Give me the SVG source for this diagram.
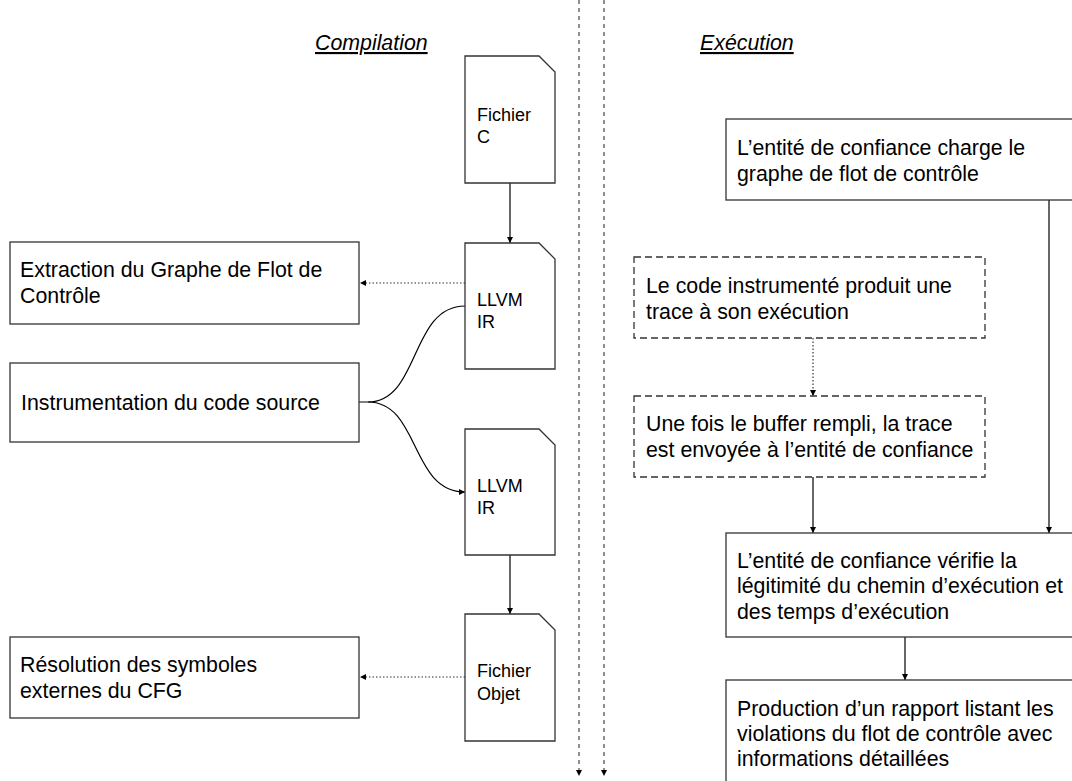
<svg xmlns="http://www.w3.org/2000/svg" width="1072" height="781" viewBox="0 0 1072 781">
<style>
text{font-family:"Liberation Sans",Arial,sans-serif;fill:#000}
.t{font-size:21.33px}
.d{font-size:18px}
.h{font-size:21.33px;font-style:italic;text-decoration:underline}
.box{fill:#fff;stroke:#333;stroke-width:1.3}
.dbox{fill:#fff;stroke:#333;stroke-width:1.3;stroke-dasharray:7 4}
.ln{fill:none;stroke:#000;stroke-width:1.2}
.dot{fill:none;stroke:#333;stroke-width:1.2;stroke-dasharray:1.5 2}
.sep{fill:none;stroke:#555;stroke-width:1.3;stroke-dasharray:4 4}
</style>
<defs>
<marker id="ah" viewBox="0 0 10 10" refX="10" refY="5" markerWidth="6" markerHeight="6" markerUnits="userSpaceOnUse" orient="auto">
<path d="M0,0 L10,5 L0,10 z" fill="#000"/>
</marker>
</defs>
<g id="headers">
<text class="h" x="315" y="50">Compilation</text>
<text class="h" x="700" y="50">Exécution</text>
</g>
<g id="connectors">
<line class="sep" x1="579" y1="0" x2="579" y2="776" marker-end="url(#ah)"/>
<line class="sep" x1="604" y1="0" x2="604" y2="776" marker-end="url(#ah)"/>
<line class="ln" x1="510" y1="183" x2="510" y2="243" marker-end="url(#ah)"/>
<line class="dot" x1="465" y1="283" x2="360" y2="283" marker-end="url(#ah)"/>
<path class="ln" d="M359,402 L368,402 C420,402 410,306 465,306"/>
<path class="ln" d="M368,402 C420,402 410,492 465,492" marker-end="url(#ah)"/>
<line class="ln" x1="510" y1="555" x2="510" y2="614" marker-end="url(#ah)"/>
<line class="dot" x1="465" y1="677" x2="360" y2="677" marker-end="url(#ah)"/>
<line class="dot" x1="813" y1="338" x2="813" y2="396" marker-end="url(#ah)"/>
<line class="ln" x1="813" y1="477" x2="813" y2="533" marker-end="url(#ah)"/>
<line class="ln" x1="1049" y1="200" x2="1049" y2="533" marker-end="url(#ah)"/>
<line class="ln" x1="905" y1="637" x2="905" y2="680" marker-end="url(#ah)"/>
</g>
<g id="fichier-c">
<path class="box" d="M465,56 L539,56 L555,72 L555,183 L465,183 z"/>
<text class="d" x="477" y="121">Fichier</text>
<text class="d" x="477" y="143">C</text>
</g>
<g id="llvm-ir-1">
<path class="box" d="M465,243 L539,243 L555,259 L555,369 L465,369 z"/>
<text class="d" x="477" y="306">LLVM</text>
<text class="d" x="477" y="328">IR</text>
</g>
<g id="llvm-ir-2">
<path class="box" d="M465,429 L539,429 L555,445 L555,555 L465,555 z"/>
<text class="d" x="477" y="492">LLVM</text>
<text class="d" x="477" y="514">IR</text>
</g>
<g id="fichier-objet">
<path class="box" d="M465,614 L539,614 L555,630 L555,741 L465,741 z"/>
<text class="d" x="477" y="677">Fichier</text>
<text class="d" x="477" y="700">Objet</text>
</g>
<g id="extraction">
<rect class="box" x="10" y="242" width="349" height="82"/>
<text class="t" x="20" y="277">Extraction du Graphe de Flot de</text>
<text class="t" x="20" y="303">Contrôle</text>
</g>
<g id="instrumentation">
<rect class="box" x="10" y="363" width="349" height="79"/>
<text class="t" x="21" y="410">Instrumentation du code source</text>
</g>
<g id="resolution">
<rect class="box" x="10" y="637" width="349" height="81"/>
<text class="t" x="20" y="672">Résolution des symboles</text>
<text class="t" x="20" y="698">externes du CFG</text>
</g>
<g id="charge">
<rect class="box" x="726" y="119" width="360" height="81"/>
<text class="t" x="737" y="155">L’entité de confiance charge le</text>
<text class="t" x="737" y="181">graphe de flot de contrôle</text>
</g>
<g id="trace">
<rect class="dbox" x="634" y="257" width="351" height="81"/>
<text class="t" x="646" y="293">Le code instrumenté produit une</text>
<text class="t" x="646" y="319">trace à son exécution</text>
</g>
<g id="buffer">
<rect class="dbox" x="634" y="396" width="351" height="81"/>
<text class="t" x="646" y="431">Une fois le buffer rempli, la trace</text>
<text class="t" x="646" y="457">est envoyée à l’entité de confiance</text>
</g>
<g id="verification">
<rect class="box" x="726" y="533" width="360" height="104"/>
<text class="t" x="737" y="568">L’entité de confiance vérifie la</text>
<text class="t" x="737" y="593">légitimité du chemin d’exécution et</text>
<text class="t" x="737" y="619">des temps d’exécution</text>
</g>
<g id="rapport">
<rect class="box" x="726" y="680" width="360" height="120"/>
<text class="t" x="737" y="716">Production d’un rapport listant les</text>
<text class="t" x="737" y="741">violations du flot de contrôle avec</text>
<text class="t" x="737" y="766">informations détaillées</text>
</g>
</svg>
